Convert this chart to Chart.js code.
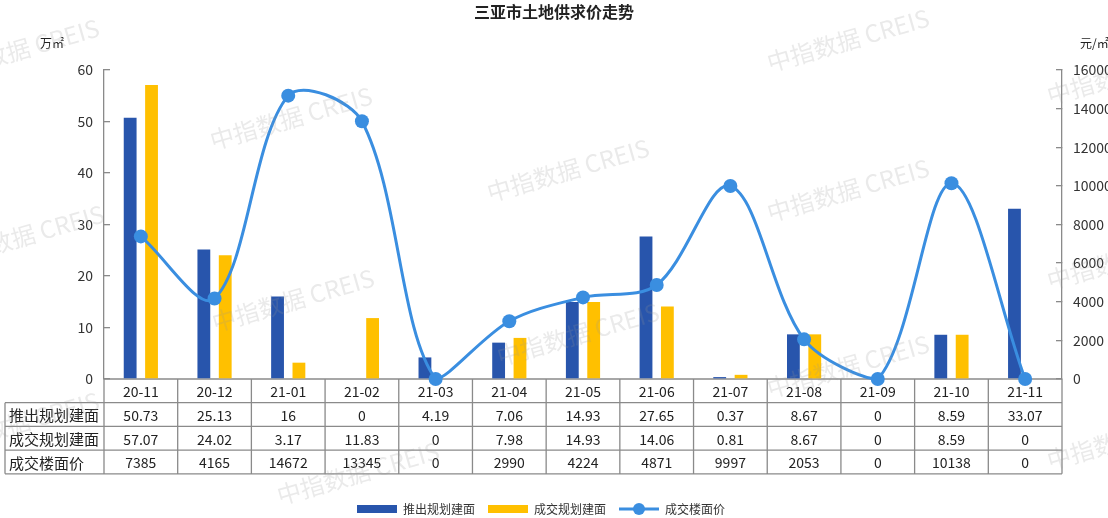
<!DOCTYPE html>
<html>
<head>
<meta charset="utf-8">
<script src="https://cdn.jsdelivr.net/npm/chart.js@4.4.1/dist/chart.umd.min.js"></script>
<style>
  html, body { margin: 0; padding: 0; background: #fff; }
  #wrap { width: 1108px; height: 518px; }
</style>
</head>
<body>
<div id="wrap"><canvas id="chart"></canvas></div>
<script>
const months = ['20-11', '20-12', '21-01', '21-02', '21-03', '21-04', '21-05', '21-06', '21-07', '21-08', '21-09', '21-10', '21-11'];
const supplyArea = [50.73, 25.13, 16, 0, 4.19, 7.06, 14.93, 27.65, 0.37, 8.67, 0, 8.59, 33.07];
const dealArea = [57.07, 24.02, 3.17, 11.83, 0, 7.98, 14.93, 14.06, 0.81, 8.67, 0, 8.59, 0];
const dealPrice = [7385, 4165, 14672, 13345, 0, 2990, 4224, 4871, 9997, 2053, 0, 10138, 0];
const seriesNames = ['推出规划建面', '成交规划建面', '成交楼面价'];
const areaMax = 60, areaStep = 10;
const priceMax = 16000, priceStep = 2000;

const BLUE = '#2855ac', YELLOW = '#ffc000', LINE = '#3a8ee0';
const FONT = "'Noto Sans CJK SC', sans-serif";
Chart.defaults.font.family = FONT;
Chart.defaults.color = '#333';

// watermark "中指数据 CREIS" spots (left edge of text, baseline)
const marks = [[-60, 82], [770, 72], [1050, 105], [213, 150], [490, 202], [770, 222], [-55, 268],
  [1050, 290], [215, 332], [500, 366], [770, 398], [1050, 470], [-60, 455], [280, 505]];

// legend icons
function icon(draw) {
  const c = document.createElement('canvas');
  c.width = 48; c.height = 14;
  draw(c.getContext('2d'));
  return c;
}
const icons = [
  icon(g => { g.fillStyle = BLUE; g.fillRect(8, 3, 40, 8); }),
  icon(g => { g.fillStyle = YELLOW; g.fillRect(8, 3, 40, 8); }),
  icon(g => {
    g.strokeStyle = LINE; g.lineWidth = 3;
    g.beginPath(); g.moveTo(8, 7); g.lineTo(48, 7); g.stroke();
    g.fillStyle = LINE; g.beginPath(); g.arc(28, 7, 6, 0, Math.PI * 2); g.fill();
  })
];

const dataTable = {
  id: 'dataTable',
  afterLayout(chart) {
    chart.legend.left -= 17;
    chart.legend.right -= 17;
  },
  beforeDatasetsDraw(chart) {
    const { ctx, chartArea: a, scales: { x } } = chart;
    const rows = [supplyArea, dealArea, dealPrice];
    const rowH = 23.7, labelLeft = 5;
    const colW = (a.right - a.left) / months.length;
    const top = a.bottom, bottom = top + rowH * 4;
    ctx.save();
    ctx.strokeStyle = '#8a8a8a';
    ctx.lineWidth = 1.3;
    ctx.beginPath();
    for (let r = 0; r <= 4; r++) {
      const y = top + r * rowH;
      ctx.moveTo(r === 0 ? a.left : labelLeft, y);
      ctx.lineTo(a.right, y);
    }
    for (let i = 0; i <= months.length; i++) {
      const xx = a.left + i * colW;
      ctx.moveTo(xx, top);
      ctx.lineTo(xx, bottom);
    }
    ctx.moveTo(labelLeft, top + rowH);
    ctx.lineTo(labelLeft, bottom);
    ctx.stroke();

    ctx.fillStyle = '#222';
    ctx.textBaseline = 'middle';
    ctx.textAlign = 'center';
    ctx.font = '14px ' + FONT;
    months.forEach((m, i) => ctx.fillText(m, x.getPixelForValue(i), top + rowH / 2 + 1));
    rows.forEach((vals, r) => {
      const y = top + rowH * (r + 1.5) + 1;
      ctx.textAlign = 'center';
      ctx.font = '14px ' + FONT;
      vals.forEach((v, i) => ctx.fillText(String(v), x.getPixelForValue(i), y));
      ctx.textAlign = 'left';
      ctx.font = '15px ' + FONT;
      ctx.fillText(seriesNames[r], labelLeft + 4, y);
    });
    ctx.restore();
  },
  afterDraw(chart) {
    const { ctx, chartArea: a } = chart;
    ctx.save();
    ctx.fillStyle = '#222';
    ctx.font = '12px ' + FONT;
    ctx.textBaseline = 'middle';
    ctx.textAlign = 'left';
    ctx.fillText('万㎡', a.left - 64, a.top - 27);
    ctx.fillText('元/㎡', a.right + 18, a.top - 27);
    // watermarks
    ctx.fillStyle = 'rgba(150,150,150,0.2)';
    ctx.font = '24px ' + FONT;
    ctx.textBaseline = 'alphabetic';
    marks.forEach(([mx, my]) => {
      ctx.save();
      ctx.translate(mx, my);
      ctx.rotate(-16 * Math.PI / 180);
      ctx.fillText('中指数据 CREIS', 0, 0);
      ctx.restore();
    });
    ctx.restore();
  }
};

new Chart(document.getElementById('chart'), {
  type: 'bar',
  data: {
    labels: months,
    datasets: [
      { label: seriesNames[0], data: supplyArea, backgroundColor: BLUE, yAxisID: 'y', order: 1,
        categoryPercentage: 0.58, barPercentage: 0.6 },
      { label: seriesNames[1], data: dealArea, backgroundColor: YELLOW, yAxisID: 'y', order: 1,
        categoryPercentage: 0.58, barPercentage: 0.6 },
      { label: seriesNames[2], data: dealPrice, type: 'line', yAxisID: 'y1', order: 0,
        borderColor: LINE, backgroundColor: LINE, borderWidth: 3, tension: 0.33,
        pointRadius: 7, pointBorderWidth: 0, pointBackgroundColor: LINE, clip: false }
    ]
  },
  options: {
    responsive: true,
    maintainAspectRatio: false,
    animation: false,
    layout: { padding: { top: 0, left: 0, right: 0, bottom: -7 } },
    plugins: {
      title: {
        display: true,
        text: '三亚市土地供求价走势',
        font: { size: 16, weight: 'bold' },
        color: '#222',
        padding: { top: 2, bottom: 48.8 }
      },
      legend: {
        position: 'bottom',
        labels: {
          usePointStyle: true,
          pointStyleWidth: 48,
          padding: 5,
          font: { size: 12 },
          color: '#333',
          sort: (a, b) => a.datasetIndex - b.datasetIndex,
          generateLabels(chart) {
            const items = Chart.defaults.plugins.legend.labels.generateLabels(chart);
            items.forEach(it => { it.pointStyle = icons[it.datasetIndex]; });
            return items;
          }
        }
      },
      tooltip: { enabled: false }
    },
    scales: {
      x: {
        grid: { display: false },
        border: { display: false },
        ticks: { display: false },
        afterFit(scale) { scale.height = 119; }
      },
      y: {
        position: 'left',
        min: 0, max: areaMax,
        ticks: { stepSize: areaStep, padding: 17, font: { size: 14 }, color: '#333' },
        grid: { drawOnChartArea: false, tickLength: -6, color: '#8a8a8a', lineWidth: 1.3 },
        border: { display: true, color: '#8a8a8a', width: 1.3 },
        afterFit(scale) { scale.width = 104; }
      },
      y1: {
        position: 'right',
        min: 0, max: priceMax,
        ticks: { stepSize: priceStep, padding: 17, font: { size: 14 }, color: '#333',
          callback: v => String(v) },
        grid: { drawOnChartArea: false, tickLength: -6, color: '#8a8a8a', lineWidth: 1.3 },
        border: { display: true, color: '#8a8a8a', width: 1.3 },
        afterFit(scale) { scale.width = 46; }
      }
    }
  },
  plugins: [dataTable]
});
</script>
</body>
</html>
